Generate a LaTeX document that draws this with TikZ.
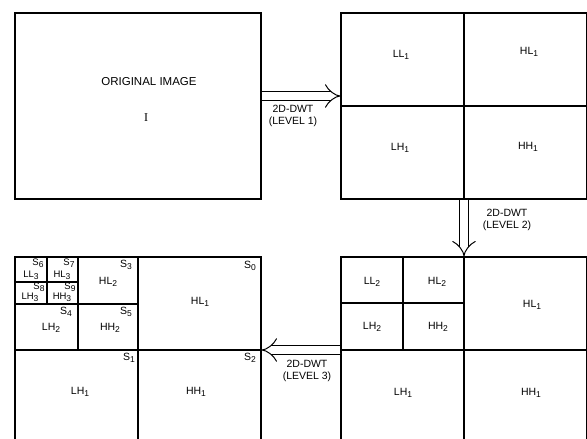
\documentclass[tikz,border=0pt]{standalone}
\usepackage{fontspec}
\setmainfont{Liberation Sans}
\newfontfamily\serifface{Liberation Serif}
\usetikzlibrary{arrows.meta}
\newcommand\bd[2]{#1\raisebox{-0.45ex}{\fontsize{8.5}{9}\selectfont #2}}

\begin{document}
\begin{tikzpicture}[
    x=1pt, y=-1pt,
    img/.style={draw, line width=1.2pt, minimum width=246pt, minimum height=186pt, inner sep=0pt},
    grid/.style={line width=1.2pt},
    band/.style={font=\fontsize{10.5}{12}\selectfont, inner sep=0pt},
    tiny/.style={font=\fontsize{9.5}{11}\selectfont, inner sep=0pt},
    lbl/.style={font=\fontsize{10.5}{11.5}\selectfont, align=center, inner sep=0pt},
    dwt/.style={double, double distance=7.5pt, line width=1pt, -{Implies}}
]
\useasboundingbox (0,0) rectangle (587,439);

\node[img] (orig) at (138,106) {};
\node[img] (lvlone) at (464,106) {};
\node[img] (lvltwo) at (464,350) {};
\node[img] (lvlthree) at (138,350) {};

\draw[grid] (lvlone.north) -- (lvlone.south) (lvlone.west) -- (lvlone.east);
\draw[grid] (lvltwo.north) -- (lvltwo.south) (lvltwo.west) -- (lvltwo.east)
    (403,257) -- (403,350) (341,303) -- (464,303);
\draw[grid] (lvlthree.north) -- (lvlthree.south) (lvlthree.west) -- (lvlthree.east)
    (78,257) -- (78,350) (15,304) -- (139,304)
    (47,257) -- (47,304) (15,282) -- (78,282);

\node[band, font=\fontsize{11.5}{13}\selectfont] (origtxt) at (149,82) {ORIGINAL IMAGE};
\node[band, font=\serifface\fontsize{12}{14}\selectfont] (origsym) at (146,118) {I};

\node[band] (ll1a) at (401,55) {\bd{LL}{1}};
\node[band] (hl1a) at (529,52) {\bd{HL}{1}};
\node[band] (lh1a) at (400,148) {\bd{LH}{1}};
\node[band] (hh1a) at (528,147) {\bd{HH}{1}};

\node[band] (ll2b) at (372,282) {\bd{LL}{2}};
\node[band] (hl2b) at (437,282) {\bd{HL}{2}};
\node[band] (lh2b) at (372,327) {\bd{LH}{2}};
\node[band] (hh2b) at (438,327) {\bd{HH}{2}};
\node[band] (hl1b) at (532,305) {\bd{HL}{1}};
\node[band] (lh1b) at (403,393) {\bd{LH}{1}};
\node[band] (hh1b) at (531,393) {\bd{HH}{1}};

\node[tiny] (ll3c) at (31,275) {\bd{LL}{3}};
\node[tiny] (hl3c) at (62,275) {\bd{HL}{3}};
\node[tiny] (lh3c) at (30,297) {\bd{LH}{3}};
\node[tiny] (hh3c) at (62,297) {\bd{HH}{3}};
\node[band] (hl2c) at (108,282) {\bd{HL}{2}};
\node[band] (lh2c) at (51,328) {\bd{LH}{2}};
\node[band] (hh2c) at (110,328) {\bd{HH}{2}};
\node[band] (hl1c) at (200,302) {\bd{HL}{1}};
\node[band] (lh1c) at (80,392) {\bd{LH}{1}};
\node[band] (hh1c) at (196,392) {\bd{HH}{1}};

\node[band] (szero) at (250,266) {\bd{S}{0}};
\node[band] (sone) at (129,358) {\bd{S}{1}};
\node[band] (stwo) at (250,358) {\bd{S}{2}};
\node[band] (sthree) at (126,265) {\bd{S}{3}};
\node[band] (sfour) at (66,312) {\bd{S}{4}};
\node[band] (sfive) at (126,312) {\bd{S}{5}};
\node[tiny] (ssix) at (38,263) {\bd{S}{6}};
\node[tiny] (sseven) at (69,263) {\bd{S}{7}};
\node[tiny] (seight) at (39,287) {\bd{S}{8}};
\node[tiny] (snine) at (70,287) {\bd{S}{9}};

\draw[dwt] ([yshift=10pt]orig.east) -- ([yshift=10pt]lvlone.west);
\draw[dwt] (lvlone.south) -- (lvltwo.north);
\draw[dwt] (lvltwo.west) -- (lvlthree.east);

\node[lbl] (dwtone) at (293,116) {2D-DWT\\(LEVEL 1)};
\node[lbl] (dwttwo) at (507,220) {2D-DWT\\(LEVEL 2)};
\node[lbl] (dwtthree) at (307,371) {2D-DWT\\(LEVEL 3)};
\end{tikzpicture}
\end{document}
